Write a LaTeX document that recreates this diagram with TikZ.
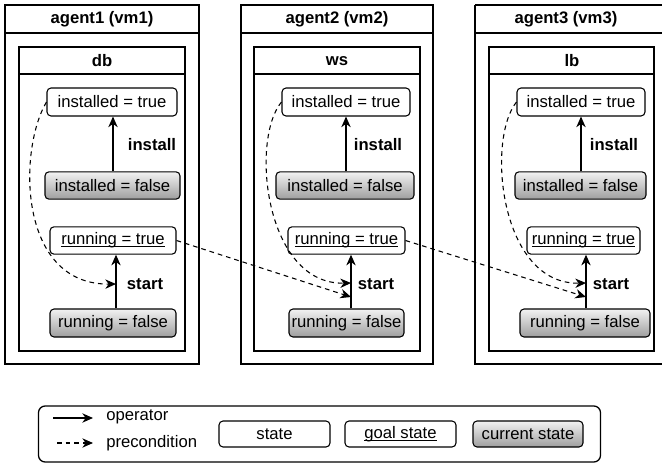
\documentclass[tikz,border=0pt]{standalone}
\usepackage{fontspec}
\setmainfont{Liberation Sans}
\usetikzlibrary{arrows.meta}

\tikzset{
  stbox/.style={draw, rounded corners=3pt, line width=0.8pt, inner sep=0pt,
                minimum height=20.5pt, align=center},
  curstate/.style={stbox, top color=black!5, bottom color=black!38},
  frame/.style={draw, line width=0.95pt},
  opline/.style={line width=1pt, -{Stealth[length=8pt,width=7pt,inset=2.5pt]}},
  preline/.style={line width=0.8pt, dash pattern=on 3.5pt off 3pt,
                  -{Stealth[length=8pt,width=7pt,inset=2.5pt]}},
  title/.style={font=\bfseries},
  oplabel/.style={font=\bfseries}
}

% underline drawn just below the baseline, through the descenders
\newcommand{\goal}[1]{{\setbox0\hbox{#1}\rlap{\rule[-1.7pt]{\wd0}{0.6pt}}\box0}}

\begin{document}
\begin{tikzpicture}[x=0.75pt, y=-0.75pt]
\fontsize{12.5pt}{14pt}\selectfont
\useasboundingbox (0,0) rectangle (662,464);

% ---------- agent 1 ----------
\draw[frame] (5,5) rectangle (199,364);
\draw[frame] (5,33) -- (199,33);
\node[title] (a1) at (102,19.5) {agent1 (vm1)};
\draw[frame] (19,47) rectangle (185,351);
\draw[frame] (19,74) -- (185,74);
\node[title] (c1) at (102,61) {db};

\node[stbox, minimum width=97.5pt, minimum height=21pt] (it1) at (112,102) {installed = true};
\node[curstate, minimum width=101.25pt] (if1) at (112.5,185.5) {installed = false};
\node[stbox, minimum width=94.5pt] (rt1) at (113,240.5) {\goal{running = true}};
\node[curstate, minimum width=94.5pt, minimum height=21pt] (rf1) at (113,323) {running = false};

\coordinate (u1) at (113,0);
\coordinate (s1) at (116,284);
\draw[opline] (if1.north -| u1) -- (it1.south -| u1);
\draw[opline] (rf1.north -| s1) -- (rt1.south -| s1);
\node[oplabel] (l1i) at (152,145) {install};
\node[oplabel] (l1s) at (145,284) {start};

% ---------- agent 2 ----------
\draw[frame] (241,5) rectangle (433,364);
\draw[frame] (241,33) -- (433,33);
\node[title] (a2) at (337,19.5) {agent2 (vm2)};
\draw[frame] (254,47) rectangle (420,351);
\draw[frame] (254,74) -- (420,74);
\node[title] (c2) at (337,61) {ws};

\node[stbox, minimum width=96pt, minimum height=21pt] (it2) at (346,102) {installed = true};
\node[curstate, minimum width=103.5pt] (if2) at (345,185.5) {installed = false};
\node[stbox, minimum width=87.75pt] (rt2) at (346.5,240.5) {\goal{running = true}};
\node[curstate, minimum width=86.25pt, minimum height=21pt] (rf2) at (346.5,323) {running = false};

\coordinate (u2) at (346,0);
\coordinate (s2) at (351,283);
\coordinate (t2) at (351,297);
\draw[opline] (if2.north -| u2) -- (it2.south -| u2);
\draw[opline] (rf2.north -| s2) -- (rt2.south -| s2);
\node[oplabel] (l2i) at (378,145) {install};
\node[oplabel] (l2s) at (376,284) {start};

% ---------- agent 3 ----------
\draw[frame] (475,5) -- (664,5);
\draw[frame] (475,5) -- (475,364) -- (664,364);
\draw[frame] (475,33) -- (664,33);
\node[title] (a3) at (566,19.5) {agent3 (vm3)};
\draw[frame] (489,47) rectangle (654,351);
\draw[frame] (489,74) -- (654,74);
\node[title] (c3) at (572,61) {lb};

\node[stbox, minimum width=96pt, minimum height=21pt] (it3) at (581,102) {installed = true};
\node[curstate, minimum width=98.25pt] (if3) at (580.5,185.5) {installed = false};
\node[stbox, minimum width=84.75pt] (rt3) at (583.5,240.5) {\goal{running = true}};
\node[curstate, minimum width=97.5pt, minimum height=21pt] (rf3) at (585,323) {running = false};

\coordinate (u3) at (581,0);
\coordinate (s3) at (586,283);
\coordinate (t3) at (586,297);
\draw[opline] (if3.north -| u3) -- (it3.south -| u3);
\draw[opline] (rf3.north -| s3) -- (rt3.south -| s3);
\node[oplabel] (l3i) at (614,145) {install};
\node[oplabel] (l3s) at (611,284) {start};

% ---------- preconditions ----------
\draw[preline] (it1.west) .. controls (18,150) and (18,285) .. (s1);
\draw[preline] (it2.west) .. controls (250,140) and (265,285) .. (s2);
\draw[preline] (it3.west) .. controls (486,140) and (500,285) .. (s3);
\draw[preline] (rt1.east) -- (t2);
\draw[preline] (rt2.east) -- (t3);

% ---------- legend ----------
\node[draw, line width=0.95pt, rounded corners=5pt, minimum width=421.5pt,
      minimum height=42pt, inner sep=0pt] (leg) at (319.5,434) {};
\coordinate (o1) at (53,418);
\coordinate (o2) at (93,418);
\coordinate (p1) at (57,443);
\coordinate (p2) at (93,443);
\draw[opline] (o1) -- (o2);
\draw[preline] (p1) -- (p2);
\node[anchor=west, inner sep=0pt] (lo) at (106,417) {operator};
\node[anchor=west, inner sep=0pt] (lp) at (106,443) {precondition};
\node[stbox, minimum width=83.25pt, minimum height=19.5pt] (ls) at (274.5,434) {state};
\node[stbox, minimum width=83.25pt, minimum height=19.5pt] (lg) at (400.5,434) {\goal{goal state}};
\node[curstate, minimum width=82.5pt, minimum height=19.5pt] (lc) at (528,434) {current state};
\end{tikzpicture}
\end{document}
